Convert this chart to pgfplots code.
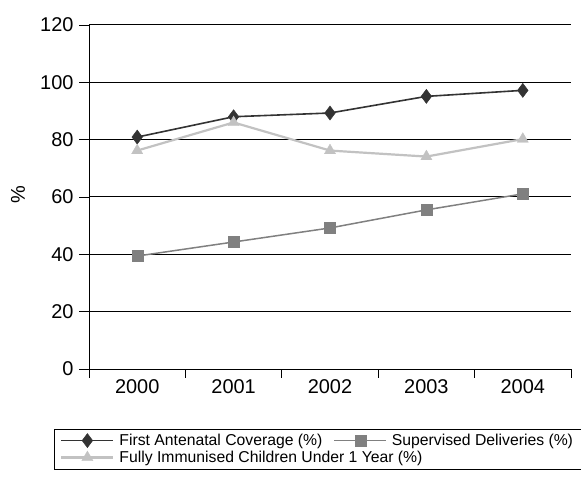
\documentclass[border=0pt]{standalone}
\usepackage{pgfplots}
\pgfplotsset{compat=1.18}
\usepackage{fontspec}
\setmainfont{Liberation Sans}
\definecolor{cA}{gray}{0.2}
\definecolor{cB}{gray}{0.5}
\definecolor{cC}{gray}{0.76}
\begin{document}
\begin{tikzpicture}
\begin{axis}[
  at={(89bp,115bp)}, anchor=south west,
  scale only axis, width=482bp, height=344bp,
  xmin=-0.5, xmax=4.5, ymin=0, ymax=120,
  ytick={0,20,...,120},
  xtick={0,1,2,3,4},
  xticklabels={2000,2001,2002,2003,2004},
  minor xtick={-0.5,0.5,1.5,2.5,3.5,4.5},
  major x tick style={draw=none},
  tick align=outside,
  major tick length=10bp,
  minor tick length=8.5bp,
  tick style={black, line width=0.8bp},
  axis x line*=bottom, axis y line*=left,
  axis line style={-, black, line width=0.8bp},
  ymajorgrids,
  grid style={black, line width=1bp},
  /pgf/number format/assume math mode=true,
  tick label style={font=\fontsize{20}{24}\selectfont},
  yticklabel style={xshift=-2bp},
  xticklabel style={yshift=3bp},
  ylabel={\%},
  ylabel style={font=\fontsize{20}{24}\selectfont, at={(axis description cs:-0.147,0.506)}, anchor=center},
  legend columns=2,
  legend cell align=left,
  legend style={at={(axis description cs:-0.0726,-0.174)}, anchor=north west,
    draw=black, line width=0.6bp, font=\fontsize{15.8}{19}\selectfont, inner xsep=6bp, inner ysep=3bp,
    /tikz/every even column/.append style={column sep=9bp}},
  legend image code/.code={\draw[mark repeat=2,mark phase=2] plot coordinates {(0bp,0bp) (26bp,0bp) (52bp,0bp)};},
]
\addplot[cA, line width=1.6bp, mark=diamond*, mark size=7bp, mark options={fill=cA, draw=cA, line width=0.5bp}]
  coordinates {(0,80.9) (1,88.0) (2,89.3) (3,95.1) (4,97.2)};
\addlegendentry{\hspace{3bp}First Antenatal Coverage (\%)}
\addplot[cB, line width=1.5bp, mark=square*, mark size=5.5bp, mark options={fill=cB, draw=cB, line width=0.3bp}]
  coordinates {(0,39.4) (1,44.3) (2,49.2) (3,55.5) (4,61.1)};
\addlegendentry{\hspace{3bp}Supervised Deliveries (\%)}
\addplot[cC, line width=2.2bp, mark=triangle*, mark size=6.5bp, mark options={fill=cC, draw=cC, line width=0.3bp}]
  coordinates {(0,76.2) (1,86.0) (2,76.2) (3,74.1) (4,80.2)};
\addlegendentry{\hspace{3bp}\rlap{Fully Immunised Children Under 1 Year (\%)}\phantom{First Antenatal Coverage (\%)}}
\end{axis}
\pgfresetboundingbox
\path (0,0) rectangle (581bp,484bp);
\end{tikzpicture}
\end{document}
